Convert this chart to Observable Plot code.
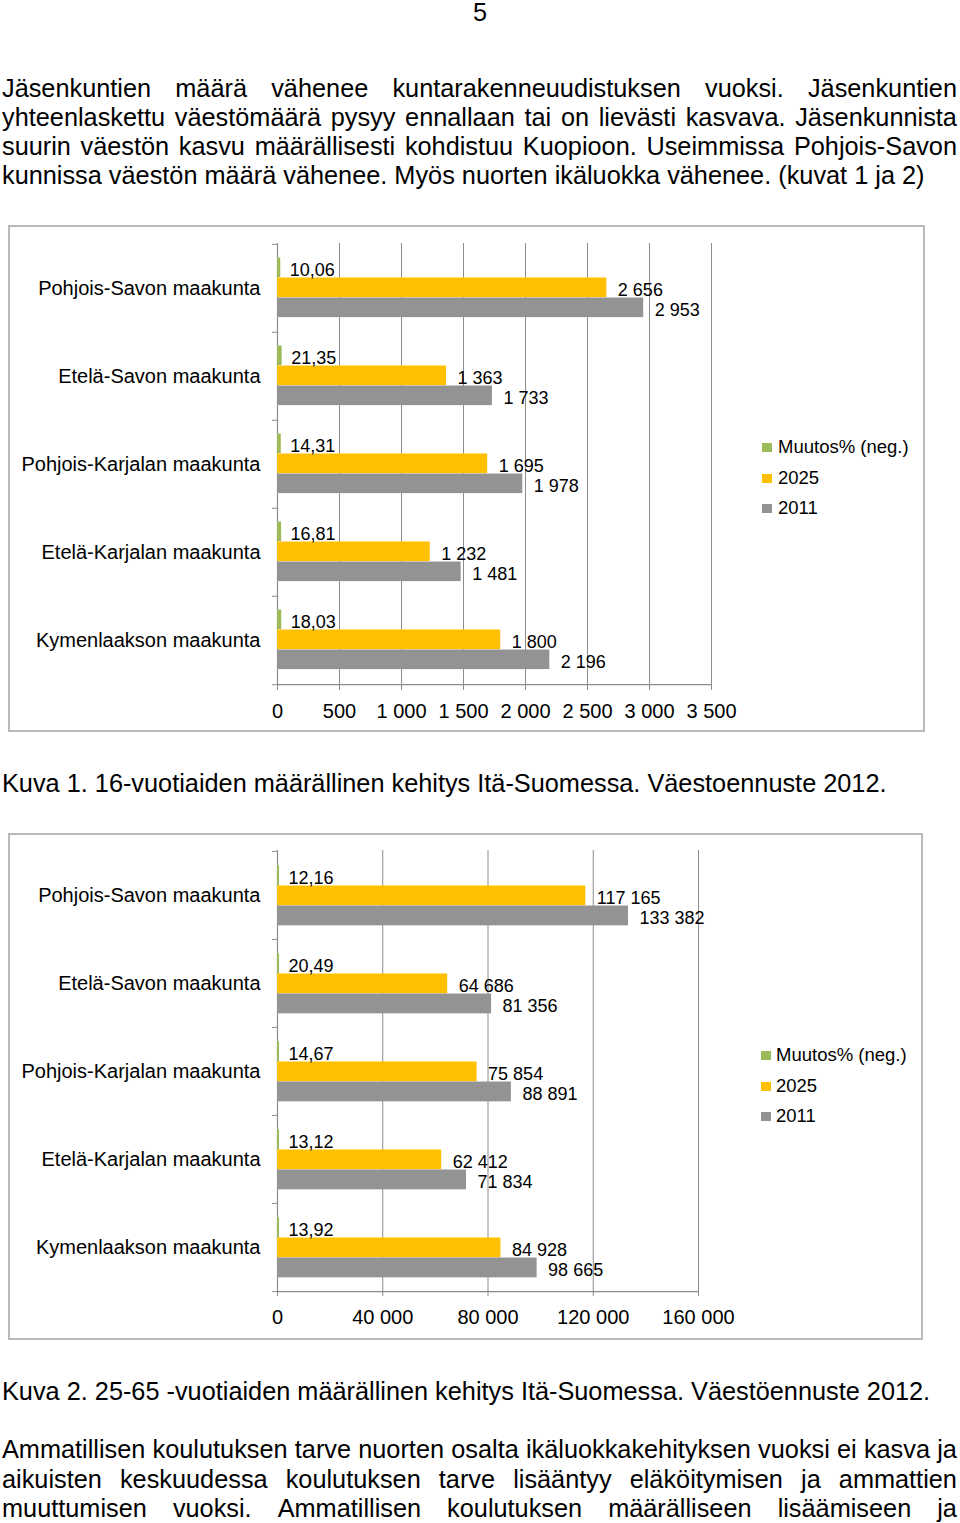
<!DOCTYPE html>
<html>
<head>
<meta charset="utf-8">
<script src="https://cdn.jsdelivr.net/npm/d3@7"></script>
<script src="https://cdn.jsdelivr.net/npm/@observablehq/plot@0.6"></script>
<style>
  body { margin: 0; background: #fff; }
  #page { position: relative; width: 960px; height: 1523px; overflow: hidden; background: #fff;
          font-family: "Liberation Sans", Arial, Helvetica, sans-serif; color: #000; }
  .line { position: absolute; left: 2px; font-size: 25.3px; line-height: 29px; white-space: nowrap; }
  .just { width: 955px; display: flex; justify-content: space-between; }
  .box { position: absolute; border: 2px solid #b9b9b9; box-sizing: border-box; background: #fff; }
  .chart { position: absolute; }
  .legend { position: absolute; font-size: 18.5px; line-height: 20px; }
  .legend .item { position: absolute; white-space: nowrap; }
  .legend .sw { position: absolute; width: 10px; height: 9px; top: 6px; left: 0; }
  .legend .lb { position: absolute; top: 0; }
</style>
</head>
<body>
<div id="page"></div>
<script>
// ---------- data ----------
const categories = ["Pohjois-Savon maakunta", "Etelä-Savon maakunta", "Pohjois-Karjalan maakunta", "Etelä-Karjalan maakunta", "Kymenlaakson maakunta"];
const seriesNames = ["Muutos% (neg.)", "2025", "2011"];
const seriesColors = ["#9bbb59", "#ffc000", "#939393"];

// Kuva 1: 16-vuotiaat
const chg1 = [10.06, 21.35, 14.31, 16.81, 18.03];
const v2025_1 = [2656, 1363, 1695, 1232, 1800];
const v2011_1 = [2953, 1733, 1978, 1481, 2196];
const ticks1 = [0, 500, 1000, 1500, 2000, 2500, 3000, 3500];

// Kuva 2: 25-65 -vuotiaat
const chg2 = [12.16, 20.49, 14.67, 13.12, 13.92];
const v2025_2 = [117165, 64686, 75854, 62412, 84928];
const v2011_2 = [133382, 81356, 88891, 71834, 98665];
const ticks2 = [0, 40000, 80000, 120000, 160000];

// ---------- text ----------
const pageNumber = "5";
const para1 = [
  "Jäsenkuntien määrä vähenee kuntarakenneuudistuksen vuoksi. Jäsenkuntien",
  "yhteenlaskettu väestömäärä pysyy ennallaan tai on lievästi kasvava. Jäsenkunnista",
  "suurin väestön kasvu määrällisesti kohdistuu Kuopioon. Useimmissa Pohjois-Savon",
  "kunnissa väestön määrä vähenee. Myös nuorten ikäluokka vähenee. (kuvat 1 ja 2)"
];
const caption1 = "Kuva 1. 16-vuotiaiden määrällinen kehitys Itä-Suomessa. Väestoennuste 2012.";
const caption2 = "Kuva 2. 25-65 -vuotiaiden määrällinen kehitys Itä-Suomessa. Väestöennuste 2012.";
const para2 = [
  "Ammatillisen koulutuksen tarve nuorten osalta ikäluokkakehityksen vuoksi ei kasva ja",
  "aikuisten keskuudessa koulutuksen tarve lisääntyy eläköitymisen ja ammattien",
  "muuttumisen vuoksi. Ammatillisen koulutuksen määrälliseen lisäämiseen ja"
];

const page = document.getElementById("page");

function addLine(text, top, justify) {
  const el = document.createElement("div");
  el.className = "line" + (justify ? " just" : "");
  el.style.top = top + "px";
  if (justify) {
    text.split(" ").forEach(w => { const s = document.createElement("span"); s.textContent = w; el.appendChild(s); });
  } else {
    el.textContent = text;
  }
  page.appendChild(el);
  return el;
}

// page number
const pn = addLine(pageNumber, 0, false);
pn.style.left = "0px"; pn.style.width = "960px"; pn.style.textAlign = "center"; pn.style.lineHeight = "25px";

para1.forEach((t, i) => addLine(t, 74 + i * 29, i < para1.length - 1));
addLine(caption1, 769, false);
addLine(caption2, 1377, false);
para2.forEach((t, i) => addLine(t, 1435 + i * 29.5, true));

// ---------- charts ----------
const fi = d3.formatLocale({decimal: ",", thousands: "\u00a0", grouping: [3], currency: ["", " €"]});
const fmtInt = fi.format(",d");
const fmtPct = fi.format(".2f");
const gridColor = "#8c8c8c";

function drawChart(cfg) {
  const {values, ticks, box, svgPos, width, height, margin, pad, barH, legendPos} = cfg;
  const b = document.createElement("div");
  b.className = "box";
  Object.assign(b.style, {left: box[0] + "px", top: box[1] + "px", width: box[2] + "px", height: box[3] + "px"});
  page.appendChild(b);

  const rows = categories.flatMap((c, j) => seriesNames.map((s, i) => ({cat: c, series: s, value: values[i][j]})));
  const bw = (height - margin.top - margin.bottom) / categories.length;
  const last = categories[categories.length - 1];

  const marks = [
    Plot.ruleX(ticks.slice(1), {stroke: gridColor, strokeWidth: 1}),
    Plot.ruleX([0], {stroke: gridColor, strokeWidth: 1.2})
  ];
  seriesNames.forEach((s, i) => {
    const sub = rows.filter(d => d.series === s);
    marks.push(Plot.barX(sub, {
      x: "value", y: "cat", fill: "series",
      insetTop: pad + i * barH,
      insetBottom: bw - pad - (i + 1) * barH,
      insetRight: i === 0 ? -2 : 0
    }));
  });
  seriesNames.forEach((s, i) => {
    const sub = rows.filter(d => d.series === s);
    marks.push(Plot.text(sub, {
      x: "value", y: "cat",
      text: d => i === 0 ? fmtPct(d.value) : fmtInt(d.value),
      textAnchor: "start", dx: 11,
      dy: pad + (i + 0.5) * barH - bw / 2 + 2,
      fontSize: 18, fill: "#000"
    }));
  });
  marks.push(
    Plot.ruleY([last], {stroke: gridColor, strokeWidth: 1.2, dy: bw / 2}),
    Plot.axisX({ticks, tickFormat: fmtInt, tickSize: 5, tickPadding: 13, fontSize: 20, stroke: gridColor, fill: "#000", label: null}),
    Plot.axisY({tickSize: 0, tickPadding: 17, fontSize: 20, fill: "#000", label: null}),
    Plot.axisY({tickSize: 5, tickFormat: () => "", stroke: gridColor, dy: -bw / 2, label: null}),
    Plot.axisY({ticks: [last], tickSize: 5, tickFormat: () => "", stroke: gridColor, dy: bw / 2, label: null})
  );

  const svg = Plot.plot({
    width, height,
    marginLeft: margin.left, marginRight: margin.right, marginTop: margin.top, marginBottom: margin.bottom,
    style: {fontFamily: '"Liberation Sans", Arial, sans-serif', fontSize: "20px", color: "#000", background: "transparent", overflow: "visible"},
    x: {domain: [0, ticks[ticks.length - 1]]},
    y: {type: "band", domain: categories, padding: 0},
    color: {domain: seriesNames, range: seriesColors},
    marks
  });
  const wrap = document.createElement("div");
  wrap.className = "chart";
  wrap.style.left = svgPos[0] + "px";
  wrap.style.top = svgPos[1] + "px";
  wrap.appendChild(svg);
  page.appendChild(wrap);

  // legend
  const lg = document.createElement("div");
  lg.className = "legend";
  lg.style.left = legendPos[0] + "px";
  lg.style.top = legendPos[1] + "px";
  seriesNames.forEach((s, i) => {
    const it = document.createElement("div");
    it.className = "item";
    it.style.top = (i * legendPos[3]) + "px";
    const sw = document.createElement("div");
    sw.className = "sw"; sw.style.background = seriesColors[i];
    const lb = document.createElement("div");
    lb.className = "lb"; lb.style.left = legendPos[2] + "px"; lb.textContent = s;
    it.appendChild(sw); it.appendChild(lb);
    lg.appendChild(it);
  });
  page.appendChild(lg);
}

drawChart({
  values: [chg1, v2025_1, v2011_1], ticks: ticks1,
  box: [8, 225, 917, 507], svgPos: [10, 227], width: 913, height: 503,
  margin: {left: 267, right: 212, top: 16, bottom: 45},
  pad: 13.5, barH: 20,
  legendPos: [762, 437, 16, 30.5]
});
drawChart({
  values: [chg2, v2025_2, v2011_2], ticks: ticks2,
  box: [8, 833, 915, 507], svgPos: [10, 835], width: 911, height: 503,
  margin: {left: 267, right: 223, top: 15, bottom: 47},
  pad: 14.5, barH: 20,
  legendPos: [761, 1045, 15, 30.5]
});
</script>
</body>
</html>
